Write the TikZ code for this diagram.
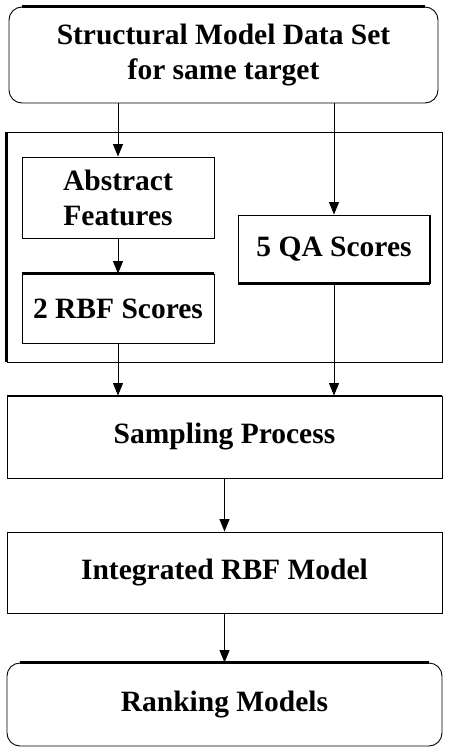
\documentclass[tikz,border=0pt]{standalone}
\usepackage{fontspec}
\setmainfont{Liberation Serif}
\usepackage{tikz}
\usetikzlibrary{arrows.meta}

\tikzset{
  stage/.style={draw=black,line width=0.9pt,align=center,inner sep=2pt,
    font=\fontsize{29.5}{35}\selectfont\bfseries},
  heavy/.style={line width=3pt},
  flow/.style={->,>={Triangle[length=12.5pt,width=10pt]},line width=1pt}
}

\begin{document}
\begin{tikzpicture}[x=1pt,y=1pt]
			\useasboundingbox (0,0) rectangle (448,-754);
			
			% input data
			
			\node[stage,rounded corners=13pt,minimum width=429,minimum height=96] (data) at (223.5,-55)
				{Structural Model Data Set\\for same target};
			\draw[heavy] ([xshift=13pt]data.north west) -- ([xshift=-13pt]data.north east);
			
			% scoring block
			
			\node[draw=black,line width=0.9pt,minimum width=435,minimum height=230] (frame) at (224.5,-247) {};
			\draw[line width=2.5pt] (frame.north west) -- (frame.south west);
			\node[stage,minimum width=192,minimum height=81] (feat) at (118,-197.5) {Abstract\\Features};
			\node[stage,minimum width=192,minimum height=69] (rbf) at (118,-308.5) {2 RBF Scores};
			\draw[heavy] (rbf.north west) -- (rbf.north east);
			\node[stage,minimum width=192,minimum height=68] (qa) at (334,-249) {5 QA Scores};
			\draw[heavy] (qa.south west) -- (qa.south east);
			\draw[line width=2pt] (qa.north east) -- (qa.south east);
			
			% model steps
			
			\node[stage,minimum width=435,minimum height=82] (samp) at (224.5,-437) {Sampling Process};
			\draw[line width=2pt] (samp.north west) -- (samp.north east);
			\node[stage,minimum width=435,minimum height=81] (integ) at (224.5,-572.5) {Integrated RBF Model};
			\node[stage,rounded corners=13pt,minimum width=435,minimum height=83] (rank) at (224.5,-704.5) {Ranking Models};
			\draw[heavy] ([xshift=13pt]rank.north west) -- ([xshift=-13pt]rank.north east);
			
			\draw[flow] (data.south -| feat.north) -- (feat.north);
			\draw[flow] (data.south -| qa.north) -- (qa.north);
			\draw[flow] (feat.south) -- (rbf.north);
			\draw[flow] (rbf.south) -- (rbf.south |- samp.north);
			\draw[flow] (qa.south) -- (qa.south |- samp.north);
			\draw[flow] (samp.south) -- (integ.north);
			\draw[flow] (integ.south) -- (rank.north);
		\end{tikzpicture}
\end{document}
